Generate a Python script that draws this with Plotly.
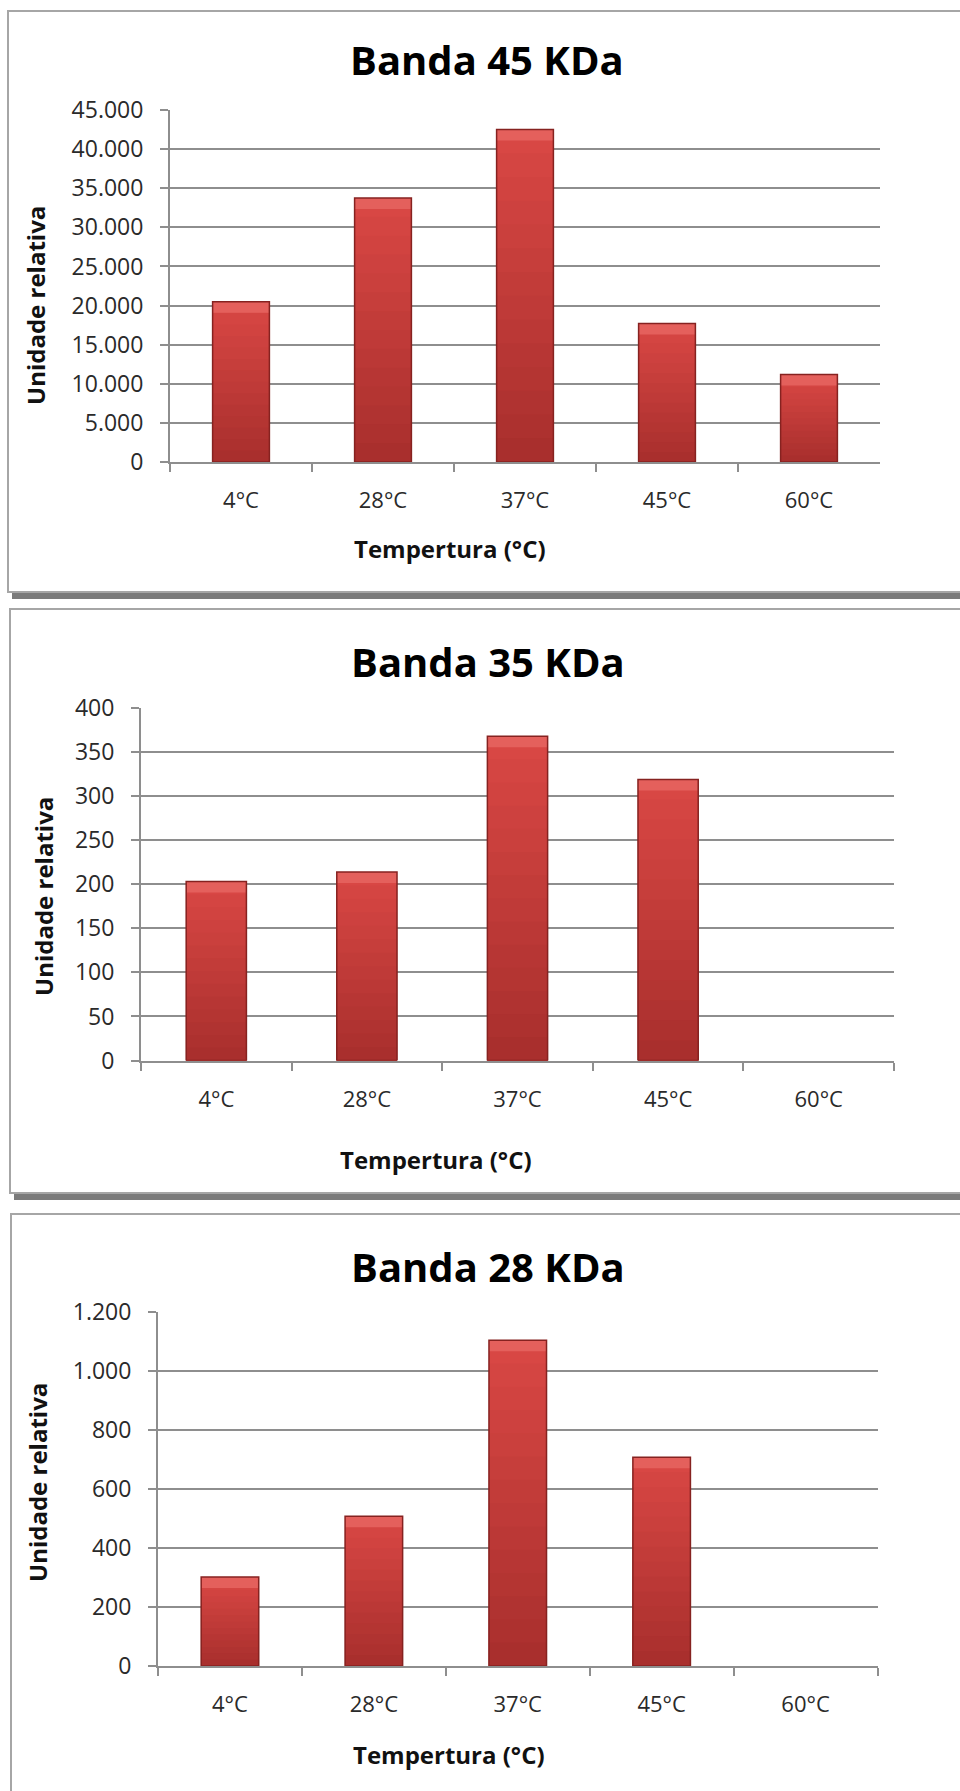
import plotly.graph_objects as go

# Dados: intensidade relativa das bandas por temperatura
categorias = ["4°C", "28°C", "37°C", "45°C", "60°C"]
banda_45 = [20500, 33750, 42500, 17700, 11200]
banda_35 = [203, 214, 368, 319, 0]
banda_28 = [301, 507, 1103, 707, 0]

titulos = ["Banda 45 KDa", "Banda 35 KDa", "Banda 28 KDa"]
y_max = [45000, 400, 1200]
y_passo = [5000, 50, 200]

W, H = 960, 1791

# Geometria de cada painel em pixels
paineis = [
    dict(plot=(170, 110, 880, 462), frame=(8, 11, 592), titulo=(487, 60),
         ytit=(36, 306), xtit=(450, 548)),
    dict(plot=(141, 708, 894, 1060.5), frame=(10, 609, 1193), titulo=(488, 661),
         ytit=(43, 897), xtit=(436, 1159)),
    dict(plot=(158, 1311.6, 877.5, 1666), frame=(11, 1214, 1830), titulo=(488, 1266),
         ytit=(37, 1483), xtit=(449, 1754)),
]

def fx(x):
    return x / W

def fy(y):
    return 1 - y / H

def mistura(c1, c2, t):
    a = [int(c1[k:k + 2], 16) for k in (1, 3, 5)]
    b = [int(c2[k:k + 2], 16) for k in (1, 3, 5)]
    return "#" + "".join("%02x" % round(a[j] + (b[j] - a[j]) * t) for j in range(3))

FONTE = "Open Sans"
GRADE = "#8e8e8e"
TOPO, BASE = "#d84744", "#a92f2d"
N_FAIXAS = 14
fig = go.Figure()

series = [banda_45, banda_35, banda_28]
shapes = []
annotations = []

for i, (valores, p) in enumerate(zip(series, paineis)):
    n = "" if i == 0 else str(i + 1)
    xa, ya = "x" + n, "y" + n
    x0, y0, x1, y1 = p["plot"]
    por_px = y_max[i] / (y1 - y0)
    visiveis = [v if v > 0 else None for v in valores]

    # degradê vertical: camadas partindo do eixo, cada uma mais baixa e mais escura
    for k in range(N_FAIXAS):
        t = k / (N_FAIXAS - 1)
        fig.add_trace(go.Bar(
            x=categorias, y=[v * (N_FAIXAS - k) / N_FAIXAS if v else None for v in visiveis],
            xaxis=xa, yaxis=ya, width=0.4,
            marker=dict(color=mistura(TOPO, BASE, t), line=dict(width=0)),
            showlegend=False, hoverinfo="skip"))
    # chanfro claro no topo
    h_sup = [11 * por_px if v else None for v in visiveis]
    fig.add_trace(go.Bar(
        x=categorias, y=h_sup,
        base=[v - 11 * por_px if v else None for v in visiveis],
        xaxis=xa, yaxis=ya, width=0.4,
        marker=dict(color="#e4605c", line=dict(width=0)),
        showlegend=False, hoverinfo="skip"))
    # contorno da barra
    fig.add_trace(go.Bar(
        x=categorias, y=visiveis, xaxis=xa, yaxis=ya, width=0.4,
        marker=dict(color="rgba(0,0,0,0)", line=dict(color="#862220", width=1.5)),
        showlegend=False, hoverinfo="x+y"))

    fig.update_layout(**{
        "xaxis" + n: dict(
            domain=[fx(x0), fx(x1)], anchor=ya, type="category",
            showgrid=False, showline=True, linecolor=GRADE, linewidth=2,
            ticks="outside", tickson="boundaries", ticklen=8,
            tickcolor=GRADE, tickwidth=2, ticklabelstandoff=18,
            tickfont=dict(family=FONTE, size=22, color="#2a2a2a"),
            range=[-0.5, 4.5], fixedrange=True, automargin=False),
        "yaxis" + n: dict(
            domain=[fy(y1), fy(y0)], anchor=xa,
            range=[0, y_max[i]], dtick=y_passo[i], tick0=0,
            tickformat=",d", separatethousands=True,
            showgrid=True, gridcolor=GRADE, gridwidth=2,
            showline=True, linecolor=GRADE, linewidth=2,
            ticks="outside", ticklen=8, tickcolor=GRADE, tickwidth=2,
            ticklabelstandoff=12, zeroline=False,
            tickfont=dict(family=FONTE, size=23, color="#2a2a2a"),
            fixedrange=True, automargin=False),
    })

    # moldura do painel com sombra inferior
    fl, ft, fb = p["frame"]
    shapes.append(dict(type="rect", xref="paper", yref="paper",
                       x0=fx(fl + 4), x1=fx(W + 20), y0=fy(fb + 7), y1=fy(fb),
                       fillcolor="#7b7b7b", line=dict(width=0), layer="below"))
    shapes.append(dict(type="rect", xref="paper", yref="paper",
                       x0=fx(fl), x1=fx(W + 20), y0=fy(fb), y1=fy(ft),
                       fillcolor="white", line=dict(color="#a6a6a6", width=2),
                       layer="below"))

    tx, ty = p["titulo"]
    annotations.append(dict(text="<b>" + titulos[i] + "</b>", xref="paper", yref="paper",
                            x=fx(tx), y=fy(ty), xanchor="center", yanchor="middle",
                            showarrow=False,
                            font=dict(family=FONTE, size=40, color="#000000")))
    yx, yy = p["ytit"]
    annotations.append(dict(text="<b>Unidade relativa</b>", xref="paper", yref="paper",
                            x=fx(yx), y=fy(yy), xanchor="center", yanchor="middle",
                            textangle=-90, showarrow=False,
                            font=dict(family=FONTE, size=24, color="#111111")))
    xx, xy = p["xtit"]
    annotations.append(dict(text="<b>Tempertura (°C)</b>", xref="paper", yref="paper",
                            x=fx(xx), y=fy(xy), xanchor="center", yanchor="middle",
                            showarrow=False,
                            font=dict(family=FONTE, size=24, color="#111111")))

fig.update_layout(
    width=W, height=H,
    margin=dict(l=0, r=0, t=0, b=0, pad=0, autoexpand=False),
    paper_bgcolor="white", plot_bgcolor="rgba(0,0,0,0)",
    barmode="overlay", separators=",.",
    shapes=shapes, annotations=annotations,
    font=dict(family=FONTE),
)

fig.write_html("out.html")
